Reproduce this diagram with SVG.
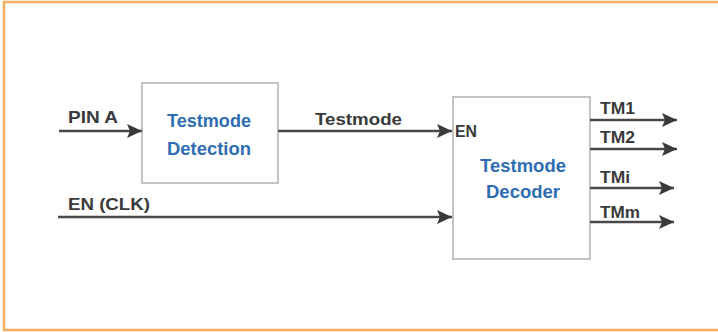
<svg xmlns="http://www.w3.org/2000/svg" width="718" height="332" viewBox="0 0 718 332">
<style>
.frame{fill:#ffffff;stroke:#f6ad5c;stroke-width:2.5}
.box{fill:#ffffff;stroke:#c4c4c4;stroke-width:2}
.wire{stroke:#4a4a4a;stroke-width:2.5;fill:none}
.lbl{font-family:"Liberation Sans",Arial,sans-serif;font-weight:bold;font-size:16.5px;fill:#3a3a3a}
.blk{font-family:"Liberation Sans",Arial,sans-serif;font-weight:bold;font-size:18px;fill:#2f6db3;text-anchor:middle}
</style>
<defs>
<marker id="arr" markerUnits="userSpaceOnUse" markerWidth="16" markerHeight="14" refX="15" refY="7" orient="auto">
<path d="M0,0 L15,7 L0,14 L3,7 Z" fill="#3a3a3a"/>
</marker>
</defs>
<rect class="frame" x="4" y="2" width="730" height="328"/>
<g id="detection">
<rect class="box" x="142" y="83" width="136" height="100"/>
<text class="blk" x="209" y="127" textLength="84" lengthAdjust="spacingAndGlyphs">Testmode</text>
<text class="blk" x="209" y="155" textLength="84" lengthAdjust="spacingAndGlyphs">Detection</text>
</g>
<g id="decoder">
<rect class="box" x="453" y="97" width="137" height="162"/>
<text class="blk" x="523" y="172" textLength="86" lengthAdjust="spacingAndGlyphs">Testmode</text>
<text class="blk" x="523" y="198" textLength="74" lengthAdjust="spacingAndGlyphs">Decoder</text>
<text class="lbl" x="455" y="137" textLength="22" lengthAdjust="spacingAndGlyphs">EN</text>
</g>
<g id="connectors">
<line class="wire" x1="59" y1="131" x2="142" y2="131" marker-end="url(#arr)"/>
<line class="wire" x1="278" y1="131" x2="452" y2="131" marker-end="url(#arr)"/>
<line class="wire" x1="58" y1="217" x2="452" y2="217" marker-end="url(#arr)"/>
<line class="wire" x1="590" y1="120" x2="677" y2="120" marker-end="url(#arr)"/>
<line class="wire" x1="590" y1="149" x2="677" y2="149" marker-end="url(#arr)"/>
<line class="wire" x1="590" y1="188" x2="674" y2="188" marker-end="url(#arr)"/>
<line class="wire" x1="590" y1="222" x2="674" y2="222" marker-end="url(#arr)"/>
<text class="lbl" x="68" y="123" textLength="50" lengthAdjust="spacingAndGlyphs">PIN A</text>
<text class="lbl" x="315" y="125" textLength="87" lengthAdjust="spacingAndGlyphs">Testmode</text>
<text class="lbl" x="68" y="210" textLength="82" lengthAdjust="spacingAndGlyphs">EN (CLK)</text>
<text class="lbl" x="600" y="114" textLength="35" lengthAdjust="spacingAndGlyphs">TM1</text>
<text class="lbl" x="600" y="143" textLength="35" lengthAdjust="spacingAndGlyphs">TM2</text>
<text class="lbl" x="600" y="183" textLength="30" lengthAdjust="spacingAndGlyphs">TMi</text>
<text class="lbl" x="600" y="218" textLength="40" lengthAdjust="spacingAndGlyphs">TMm</text>
</g>
</svg>
